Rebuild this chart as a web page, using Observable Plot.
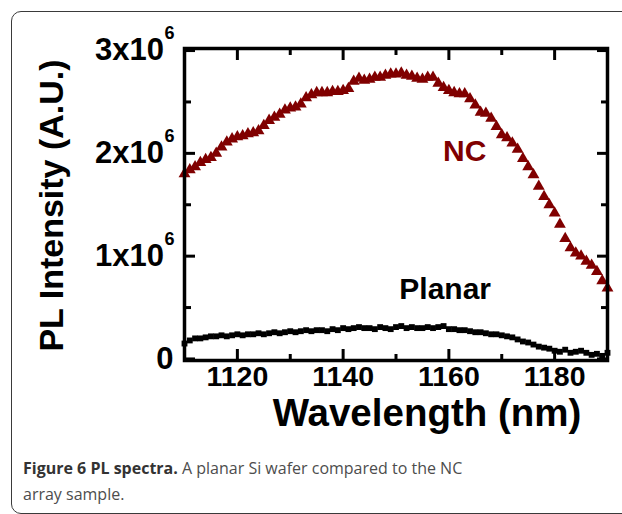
<!DOCTYPE html>
<html>
<head>
<meta charset="utf-8">
<script src="https://cdn.jsdelivr.net/npm/d3@7"></script>
<script src="https://cdn.jsdelivr.net/npm/@observablehq/plot@0.6"></script>
<style>
  html, body { margin: 0; padding: 0; background: #fff; width: 622px; height: 514px; overflow: hidden; }
  #box { position: absolute; left: 11px; top: 11px; width: 640px; height: 501px; border: 1.3px solid #3a3a3a; border-radius: 10px; }
  #chart { position: absolute; left: 0; top: 0; }
  #chart svg text { font-family: "Liberation Sans", Arial, sans-serif; font-weight: bold; }
  #caption { position: absolute; left: 23px; top: 455px; font-family: "Open Sans", sans-serif; font-size: 16px; line-height: 26px; color: #4d4d4d; }
  #caption b { color: #333; font-weight: bold; }
</style>
</head>
<body>
<div id="box"></div>
<div id="chart"></div>
<div id="caption"><b>Figure 6 PL spectra.</b> A planar Si wafer compared to the NC<br>array sample.</div>
<script>
// Wavelength (nm), one sample per nm
const wavelength = d3.range(1110, 1191);
// NC array sample PL intensity (x1e6 A.U.)
const ncValues = [
  1.80, 1.84, 1.87, 1.91, 1.94, 1.96, 2.00, 2.06, 2.11, 2.14,
  2.16, 2.17, 2.19, 2.20, 2.22, 2.27, 2.32, 2.35, 2.38, 2.42,
  2.44, 2.45, 2.48, 2.54, 2.57, 2.59, 2.59, 2.59, 2.60, 2.60,
  2.61, 2.63, 2.70, 2.73, 2.71, 2.72, 2.74, 2.74, 2.76, 2.77,
  2.77, 2.78, 2.76, 2.75, 2.73, 2.72, 2.74, 2.74, 2.68, 2.64,
  2.61, 2.59, 2.58, 2.58, 2.53, 2.47, 2.40, 2.39, 2.34, 2.26,
  2.18, 2.15, 2.10, 2.04, 1.95, 1.87, 1.79, 1.68, 1.58, 1.50,
  1.42, 1.31, 1.17, 1.08, 1.03, 1.00, 0.95, 0.91, 0.85, 0.76,
  0.69
];
// Planar Si wafer PL intensity (x1e6 A.U.)
const planarValues = [
  0.15, 0.18, 0.20, 0.20, 0.21, 0.22, 0.22, 0.23, 0.22, 0.23,
  0.24, 0.23, 0.24, 0.24, 0.25, 0.24, 0.25, 0.26, 0.25, 0.26,
  0.27, 0.26, 0.27, 0.28, 0.27, 0.28, 0.28, 0.27, 0.29, 0.28,
  0.30, 0.29, 0.30, 0.31, 0.30, 0.30, 0.29, 0.31, 0.30, 0.29,
  0.31, 0.32, 0.30, 0.31, 0.30, 0.30, 0.31, 0.30, 0.31, 0.32,
  0.29, 0.29, 0.28, 0.28, 0.27, 0.26, 0.26, 0.25, 0.24, 0.24,
  0.23, 0.22, 0.21, 0.19, 0.17, 0.16, 0.14, 0.12, 0.11, 0.10,
  0.08, 0.07, 0.09, 0.06, 0.07, 0.08, 0.06, 0.04, 0.05, 0.03,
  0.06
];
// Axis ticks
const xMajorTicks = [1120, 1140, 1160, 1180];
const xMinorTicks = [1130, 1150, 1170];
const yMajorTicks = [0, 1e6, 2e6, 3e6];
const yMinorTicks = [0.5e6, 1.5e6, 2.5e6];
const yTickBase = ["0", "1x10", "2x10", "3x10"];
const yTickSup = ["", "6", "6", "6"];
// Series labels
const seriesNames = ["NC", "Planar"];
const seriesLabelX = [1163, 1159.3];
const seriesLabelY = [2.02e6, 0.68e6];
const seriesColors = ["#800000", "#000000"];

const nc = wavelength.map((w, i) => ({w, v: ncValues[i] * 1e6}));
const planar = wavelength.map((w, i) => ({w, v: planarValues[i] * 1e6}));
const yTicks = yMajorTicks.map((v, i) => ({v, base: yTickBase[i], sup: yTickSup[i]}));
const seriesLabels = seriesNames.map((name, i) => ({name, x: seriesLabelX[i], y: seriesLabelY[i], color: seriesColors[i]}));

const tickW = 3;
const chart = Plot.plot({
  width: 622,
  height: 440,
  marginLeft: 184,
  marginRight: 15,
  marginTop: 48,
  marginBottom: 80,
  x: {domain: [1110, 1190], label: null},
  y: {domain: [-0.015e6, 3.02e6], label: null},
  marks: [
    Plot.dot(planar, {x: "w", y: "v", symbol: "square", r: 3.3, fill: "#000", stroke: "none"}),
    Plot.dot(nc, {x: "w", y: "v", symbol: "triangle", r: 4.4, fill: "#800000", stroke: "none"}),
    // inward ticks, all four sides
    Plot.axisX(xMajorTicks, {anchor: "bottom", tickSize: 11, dy: -11, fill: "none", strokeWidth: tickW, label: null}),
    Plot.axisX(xMinorTicks, {anchor: "bottom", tickSize: 6, dy: -6, fill: "none", strokeWidth: tickW, label: null}),
    Plot.axisX(xMajorTicks, {anchor: "top", tickSize: 11, dy: 11, fill: "none", strokeWidth: tickW, label: null}),
    Plot.axisX(xMinorTicks, {anchor: "top", tickSize: 6, dy: 6, fill: "none", strokeWidth: tickW, label: null}),
    Plot.axisY(yMajorTicks, {anchor: "left", tickSize: 11, dx: 11, fill: "none", strokeWidth: tickW, label: null}),
    Plot.axisY(yMinorTicks, {anchor: "left", tickSize: 7, dx: 7, fill: "none", strokeWidth: tickW, label: null}),
    Plot.axisY(yMajorTicks, {anchor: "right", tickSize: 11, dx: -11, fill: "none", strokeWidth: tickW, label: null}),
    Plot.axisY(yMinorTicks, {anchor: "right", tickSize: 7, dx: -7, fill: "none", strokeWidth: tickW, label: null}),
    // x tick labels
    Plot.text(xMajorTicks, {x: d => d, text: d => String(d), frameAnchor: "bottom", textAnchor: "middle", lineAnchor: "top", dy: 5, fontSize: 28.5, fill: "#000"}),
    // y tick labels with superscript exponent
    Plot.text(yTicks.filter(d => d.sup === ""), {y: "v", text: "base", frameAnchor: "left", textAnchor: "end", dx: -11, fontSize: 31, fill: "#000"}),
    Plot.text(yTicks.filter(d => d.sup !== ""), {y: "v", text: "base", frameAnchor: "left", textAnchor: "end", dx: -20.5, fontSize: 31, fill: "#000"}),
    Plot.text(yTicks.filter(d => d.sup !== ""), {y: "v", text: "sup", frameAnchor: "left", textAnchor: "end", dx: -10, dy: -17, fontSize: 18, fill: "#000"}),
    // axis titles
    Plot.text(["Wavelength (nm)"], {text: d => d, frameAnchor: "bottom", textAnchor: "middle", lineAnchor: "middle", dx: 31, dy: 53, fontSize: 38.5, fill: "#000"}),
    Plot.text(["PL Intensity (A.U.)"], {text: d => d, frameAnchor: "left", textAnchor: "middle", lineAnchor: "middle", dx: -132, dy: 1, rotate: -90, fontSize: 34, fill: "#000"}),
    // series labels
    Plot.text(seriesLabels, {x: "x", y: "y", text: "name", fill: "color", fontSize: 30}),
    Plot.frame({strokeWidth: 3.5, stroke: "#000"})
  ]
});
document.getElementById("chart").appendChild(chart);
</script>
</body>
</html>
